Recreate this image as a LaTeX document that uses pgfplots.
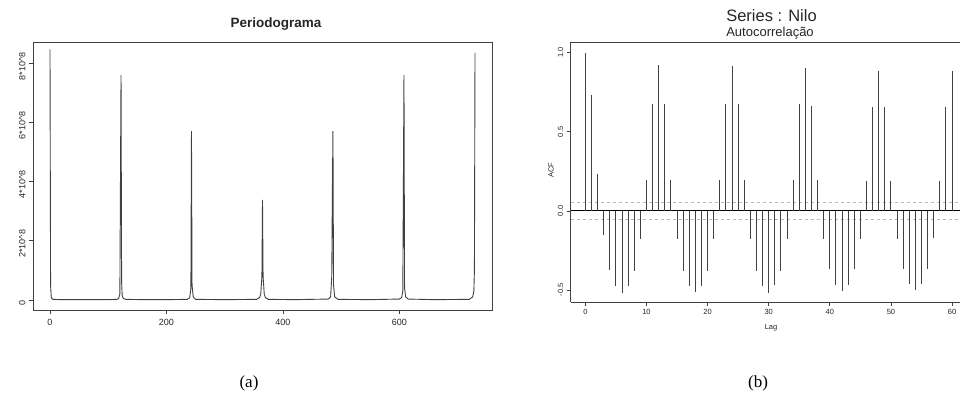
\documentclass[border=0pt]{standalone}
\usepackage{fontspec}
\setmainfont{Liberation Sans}
\newfontfamily\capfont{Liberation Serif}
\usepackage{pgfplots}
\pgfplotsset{compat=1.18}
\begin{document}
\begin{tikzpicture}[x=1pt,y=1pt]
\useasboundingbox (0,0) rectangle (960,410);
% ---------------- (a) Periodograma ----------------
\begin{axis}[
  at={(33pt,100pt)}, anchor=south west, scale only axis,
  width=459pt, height=268pt,
  xmin=-29.2, xmax=759.2, ymin=-0.34, ymax=8.72,
  xtick={0,200,400,600}, ytick={0,2,4,6,8},
  yticklabels={0,2*10\^{}8,4*10\^{}8,6*10\^{}8,8*10\^{}8},
  tick align=outside, tick pos=left, major tick length=4pt,
  ticklabel style={font=\fontsize{9}{10}\selectfont, black!85},
  yticklabel style={rotate=90, anchor=south, xshift=-3pt},
  xticklabel style={yshift=-2pt},
  /pgf/number format/assume math mode=true,
  axis line style={line width=0.8pt, black!75},
  tick style={line width=0.7pt, black!75},
  clip=true,
]
\addplot[black!75, line width=0.9pt] coordinates {
(0,8.47) (1,0.5) (2,0.12) (3,0.05) (5,0.02) (20,0.01) (60,0.01) (100,0.01)
(115,0.02) (118,0.05) (120,0.2) (121,3.95) (122,7.6) (123,0.6) (124,0.15) (126,0.05) (130,0.02)
(160,0.01) (200,0.01) (236,0.02) (240,0.08) (242,0.4) (243,5.71) (244,0.5) (246,0.1) (250,0.02)
(300,0.01) (355,0.02) (360,0.08) (362,0.2) (364,0.8) (365,3.38) (366,0.8) (368,0.2) (370,0.08) (375,0.02)
(420,0.01) (478,0.03) (482,0.1) (484,0.8) (485,3.6) (486,5.71) (487,0.5) (489,0.1) (495,0.02)
(550,0.01) (600,0.03) (604,0.08) (606,0.3) (607,3.9) (608,7.6) (609,0.4) (611,0.1) (615,0.03)
(660,0.01) (720,0.02) (726,0.1) (728,0.3) (729,1.0) (730,8.35)
};
\end{axis}
\node[font=\bfseries\fontsize{13.5}{15}\selectfont, black!85] at (276,386) {Periodograma};
% ---------------- (b) ACF ----------------
\begin{axis}[
  at={(570.7pt,108pt)}, anchor=south west, scale only axis,
  width=389.3pt, height=260pt,
  xmin=-2.4, xmax=61.3, ymin=-0.576, ymax=1.068,
  axis lines*=left,
  axis line style={-, line width=0.8pt, black!75},
  xtick={0,10,...,60}, ytick={-0.5,0,0.5,1},
  yticklabels={-0.5,0.0,0.5,1.0},
  tick align=outside, major tick length=4pt,
  ticklabel style={font=\fontsize{7.5}{8}\selectfont, black!85},
  yticklabel style={rotate=90, anchor=south},
  /pgf/number format/assume math mode=true,
  tick style={line width=0.7pt, black!75},
  after end axis/.code={\draw[line width=0.8pt, black!75] (rel axis cs:0,1) -- (rel axis cs:1,1);},
]
\addplot[gray!55, dashed, line width=0.7pt] coordinates {(-2.4,0.052) (61.3,0.052)};
\addplot[gray!55, dashed, line width=0.7pt] coordinates {(-2.4,-0.052) (61.3,-0.052)};
\addplot[black, line width=0.9pt] coordinates {(-2.4,0) (61.3,0)};
\addplot[ycomb, black!75, line width=1pt] coordinates {
(0,1.0) (1,0.732) (2,0.232) (3,-0.154) (4,-0.371) (5,-0.475) (6,-0.517) (7,-0.475) (8,-0.38) (9,-0.175)
(10,0.194) (11,0.673) (12,0.922) (13,0.673) (14,0.194) (15,-0.175) (16,-0.38) (17,-0.475) (18,-0.51) (19,-0.475)
(20,-0.38) (21,-0.175) (22,0.194) (23,0.673) (24,0.915) (25,0.673) (26,0.194) (27,-0.175) (28,-0.38) (29,-0.475)
(30,-0.517) (31,-0.47) (32,-0.38) (33,-0.175) (34,0.194) (35,0.673) (36,0.905) (37,0.665) (38,0.194) (39,-0.175)
(40,-0.37) (41,-0.47) (42,-0.505) (43,-0.47) (44,-0.37) (45,-0.175) (46,0.19) (47,0.655) (48,0.884) (49,0.655)
(50,0.19) (51,-0.175) (52,-0.37) (53,-0.46) (54,-0.5) (55,-0.46) (56,-0.365) (57,-0.17) (58,0.19) (59,0.655)
(60,0.884)
};
\end{axis}
\node[font=\fontsize{16.5}{18}\selectfont, black!85] at (771.5,394) {Series : Nilo};
\node[font=\fontsize{13}{15}\selectfont, black!85] at (770,377) {Autocorrelação};
\node[font=\fontsize{7.5}{8}\selectfont, black!85, rotate=90] at (551,240) {ACF};
\node[font=\fontsize{7.5}{8}\selectfont, black!85] at (771,82) {Lag};
% ---------------- captions ----------------
\node[font=\capfont\fontsize{17}{19}\selectfont] at (249,27) {(a)};
\node[font=\capfont\fontsize{17}{19}\selectfont] at (758,27) {(b)};
\end{tikzpicture}
\end{document}
